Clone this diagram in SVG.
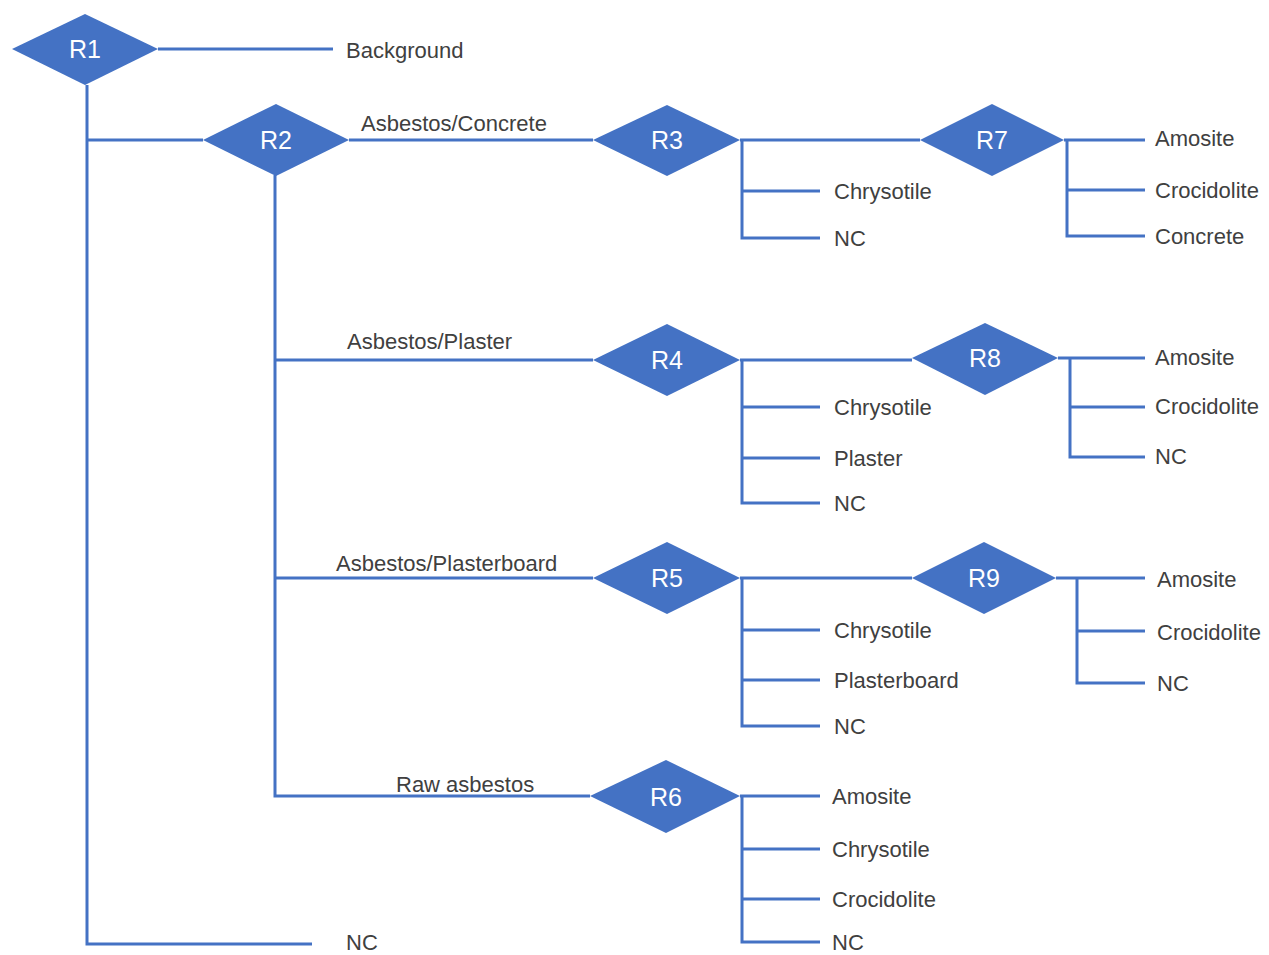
<svg xmlns="http://www.w3.org/2000/svg" width="1269" height="955" viewBox="0 0 1269 955">
<style>
.ln{stroke:#4472C4;stroke-width:3;fill:none}
.dm{fill:#4472C4}
.dl{font-family:"Liberation Sans",Arial,sans-serif;font-size:25px;fill:#ffffff;text-anchor:middle;dominant-baseline:central}
.t{font-family:"Liberation Sans",Arial,sans-serif;font-size:22px;fill:#404040;dominant-baseline:central}
</style>
<rect width="1269" height="955" fill="#ffffff"/>
<g id="connectors">
<path class="ln" d="M158 49H333"/>
<path class="ln" d="M87 85V944H312"/>
<path class="ln" d="M87 140H203"/>
<path class="ln" d="M349 140H593"/>
<path class="ln" d="M740 140H920"/>
<path class="ln" d="M1064 140H1145"/>
<path class="ln" d="M1067 140V236H1145M1067 190H1145"/>
<path class="ln" d="M742 140V238H820M742 191H820"/>
<path class="ln" d="M275 175V796H590"/>
<path class="ln" d="M275 360H593"/>
<path class="ln" d="M740 360H912"/>
<path class="ln" d="M1058 358H1145"/>
<path class="ln" d="M1070 358V457H1145M1070 407H1145"/>
<path class="ln" d="M742 360V503H820M742 407H820M742 458H820"/>
<path class="ln" d="M275 578H593"/>
<path class="ln" d="M740 578H912"/>
<path class="ln" d="M1056 578H1145"/>
<path class="ln" d="M1077 578V683H1145M1077 631H1145"/>
<path class="ln" d="M742 578V726H820M742 630H820M742 680H820"/>
<path class="ln" d="M740 796H820"/>
<path class="ln" d="M742 796V942H820M742 849H820M742 899H820"/>
</g>
<g id="labels">
<text class="t" x="361" y="123">Asbestos/Concrete</text>
<text class="t" x="347" y="341">Asbestos/Plaster</text>
<text class="t" x="336" y="563">Asbestos/Plasterboard</text>
<text class="t" x="396" y="784">Raw asbestos</text>
</g>
<g id="R1"><polygon class="dm" points="85,14 158,49 85,85 12,49"/><text class="dl" x="85" y="49">R1</text></g>
<g id="R2"><polygon class="dm" points="276,104 349,140 276,176 203,140"/><text class="dl" x="276" y="140">R2</text></g>
<g id="R3"><polygon class="dm" points="667,105 740,140 667,176 593,140"/><text class="dl" x="667" y="140">R3</text></g>
<g id="R4"><polygon class="dm" points="667,324 740,360 667,396 593,360"/><text class="dl" x="667" y="360">R4</text></g>
<g id="R5"><polygon class="dm" points="667,542 740,578 667,614 593,578"/><text class="dl" x="667" y="578">R5</text></g>
<g id="R6"><polygon class="dm" points="666,760 740,796 666,833 590,796"/><text class="dl" x="666" y="797">R6</text></g>
<g id="R7"><polygon class="dm" points="992,104 1064,140 992,176 920,140"/><text class="dl" x="992" y="140">R7</text></g>
<g id="R8"><polygon class="dm" points="985,323 1058,358 985,395 912,358"/><text class="dl" x="985" y="358">R8</text></g>
<g id="R9"><polygon class="dm" points="984,542 1056,578 984,614 912,578"/><text class="dl" x="984" y="578">R9</text></g>
<g id="leaf-background"><text class="t" x="346" y="50">Background</text></g>
<g id="leaf-r1-nc"><text class="t" x="346" y="942">NC</text></g>
<g id="leaf-r7-amosite"><text class="t" x="1155" y="138">Amosite</text></g>
<g id="leaf-r7-crocidolite"><text class="t" x="1155" y="190">Crocidolite</text></g>
<g id="leaf-r7-concrete"><text class="t" x="1155" y="236">Concrete</text></g>
<g id="leaf-r3-chrysotile"><text class="t" x="834" y="191">Chrysotile</text></g>
<g id="leaf-r3-nc"><text class="t" x="834" y="238">NC</text></g>
<g id="leaf-r8-amosite"><text class="t" x="1155" y="357">Amosite</text></g>
<g id="leaf-r8-crocidolite"><text class="t" x="1155" y="406">Crocidolite</text></g>
<g id="leaf-r8-nc"><text class="t" x="1155" y="456">NC</text></g>
<g id="leaf-r4-chrysotile"><text class="t" x="834" y="407">Chrysotile</text></g>
<g id="leaf-r4-plaster"><text class="t" x="834" y="458">Plaster</text></g>
<g id="leaf-r4-nc"><text class="t" x="834" y="503">NC</text></g>
<g id="leaf-r9-amosite"><text class="t" x="1157" y="579">Amosite</text></g>
<g id="leaf-r9-crocidolite"><text class="t" x="1157" y="632">Crocidolite</text></g>
<g id="leaf-r9-nc"><text class="t" x="1157" y="683">NC</text></g>
<g id="leaf-r5-chrysotile"><text class="t" x="834" y="630">Chrysotile</text></g>
<g id="leaf-r5-plasterboard"><text class="t" x="834" y="680">Plasterboard</text></g>
<g id="leaf-r5-nc"><text class="t" x="834" y="726">NC</text></g>
<g id="leaf-r6-amosite"><text class="t" x="832" y="796">Amosite</text></g>
<g id="leaf-r6-chrysotile"><text class="t" x="832" y="849">Chrysotile</text></g>
<g id="leaf-r6-crocidolite"><text class="t" x="832" y="899">Crocidolite</text></g>
<g id="leaf-r6-nc"><text class="t" x="832" y="942">NC</text></g>
</svg>
